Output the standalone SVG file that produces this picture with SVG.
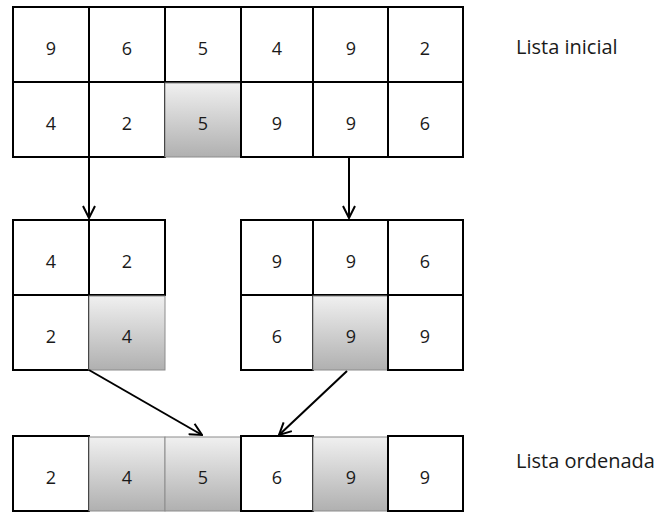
<svg xmlns="http://www.w3.org/2000/svg" width="660" height="513" viewBox="0 0 660 513">
<style>
.c{fill:#fff;stroke:#000;stroke-width:2}
.s{fill:url(#g);stroke:#8c8c8c;stroke-width:1}
.t{font-family:"Open Sans","Liberation Sans",sans-serif;font-size:18px;fill:#1a1a1a;text-anchor:middle}
.l{font-family:"Open Sans","Liberation Sans",sans-serif;font-size:20px;fill:#1a1a1a}
.a{stroke:#000;stroke-width:2;fill:none}
</style>
<defs>
<linearGradient id="g" x1="0" y1="0" x2="0" y2="1">
<stop offset="0" stop-color="#f0f0f0"/>
<stop offset="1" stop-color="#b0b0b0"/>
</linearGradient>
<marker id="m" viewBox="0 0 14 14" refX="13" refY="7" markerWidth="14" markerHeight="14" markerUnits="userSpaceOnUse" orient="auto">
<path d="M1,1 L13,7 L1,13" fill="none" stroke="#000" stroke-width="2"/>
</marker>
</defs>
<rect width="660" height="513" fill="#fff"/>
<g id="lista-inicial">
<rect class="c" x="13" y="7" width="76" height="75"/>
<rect class="c" x="89" y="7" width="76" height="75"/>
<rect class="c" x="165" y="7" width="76" height="75"/>
<rect class="c" x="241" y="7" width="72" height="75"/>
<rect class="c" x="313" y="7" width="75" height="75"/>
<rect class="c" x="388" y="7" width="75" height="75"/>
<rect class="c" x="13" y="82" width="76" height="75"/>
<rect class="c" x="89" y="82" width="76" height="75"/>
<rect class="s" x="165" y="83" width="76" height="74"/>
<rect class="c" x="241" y="82" width="72" height="75"/>
<rect class="c" x="313" y="82" width="75" height="75"/>
<rect class="c" x="388" y="82" width="75" height="75"/>
<text class="t" x="51" y="55">9</text>
<text class="t" x="127" y="55">6</text>
<text class="t" x="203" y="55">5</text>
<text class="t" x="277" y="55">4</text>
<text class="t" x="351" y="55">9</text>
<text class="t" x="425" y="55">2</text>
<text class="t" x="51" y="130">4</text>
<text class="t" x="127" y="130">2</text>
<text class="t" x="203" y="130">5</text>
<text class="t" x="277" y="130">9</text>
<text class="t" x="351" y="130">9</text>
<text class="t" x="425" y="130">6</text>
<text class="l" x="516" y="54">Lista inicial</text>
</g>
<g id="sublista-izq">
<rect class="c" x="13" y="220" width="76" height="75"/>
<rect class="c" x="89" y="220" width="76" height="75"/>
<rect class="c" x="13" y="295" width="76" height="75"/>
<rect class="s" x="89" y="296" width="76" height="74"/>
<text class="t" x="51" y="268">4</text>
<text class="t" x="127" y="268">2</text>
<text class="t" x="51" y="343">2</text>
<text class="t" x="127" y="343">4</text>
</g>
<g id="sublista-der">
<rect class="c" x="241" y="220" width="72" height="75"/>
<rect class="c" x="313" y="220" width="75" height="75"/>
<rect class="c" x="388" y="220" width="75" height="75"/>
<rect class="c" x="241" y="295" width="72" height="75"/>
<rect class="s" x="313" y="296" width="75" height="74"/>
<rect class="c" x="388" y="295" width="75" height="75"/>
<text class="t" x="277" y="268">9</text>
<text class="t" x="351" y="268">9</text>
<text class="t" x="425" y="268">6</text>
<text class="t" x="277" y="343">6</text>
<text class="t" x="351" y="343">9</text>
<text class="t" x="425" y="343">9</text>
</g>
<g id="lista-ordenada">
<rect class="c" x="13" y="436" width="76" height="75"/>
<rect class="s" x="89" y="437" width="76" height="74"/>
<rect class="s" x="165" y="437" width="76" height="74"/>
<rect class="c" x="241" y="436" width="72" height="75"/>
<rect class="s" x="313" y="437" width="75" height="74"/>
<rect class="c" x="388" y="436" width="75" height="75"/>
<text class="t" x="51" y="484">2</text>
<text class="t" x="127" y="484">4</text>
<text class="t" x="203" y="484">5</text>
<text class="t" x="277" y="484">6</text>
<text class="t" x="351" y="484">9</text>
<text class="t" x="425" y="484">9</text>
<text class="l" x="516" y="468">Lista ordenada</text>
</g>
<g id="conectores">
<line class="a" x1="89" y1="157" x2="89" y2="218" marker-end="url(#m)"/>
<line class="a" x1="349" y1="157" x2="349" y2="218" marker-end="url(#m)"/>
<line class="a" x1="89" y1="370" x2="202" y2="435" marker-end="url(#m)"/>
<line class="a" x1="347" y1="371" x2="279" y2="435" marker-end="url(#m)"/>
</g>
</svg>
